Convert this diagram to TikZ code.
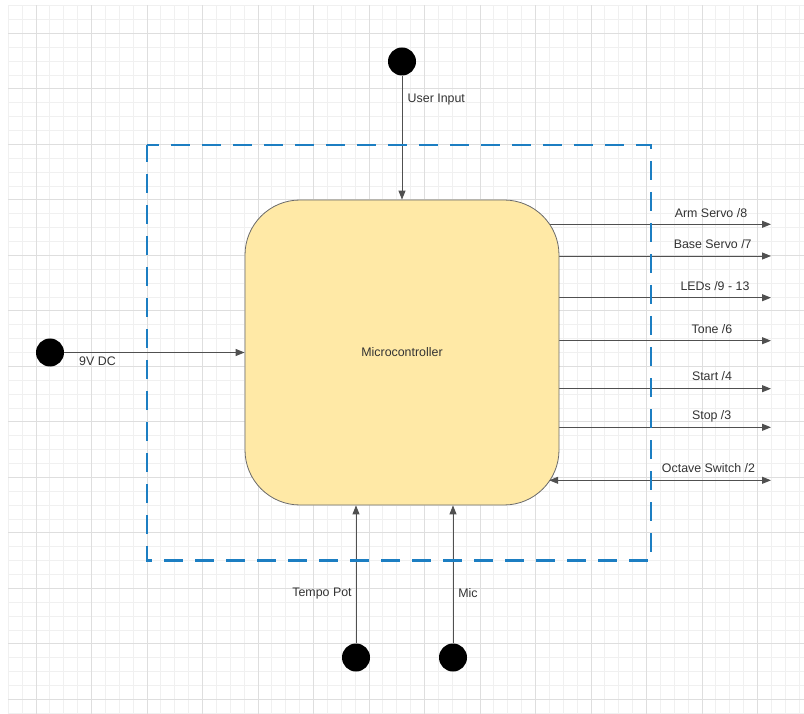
\documentclass[tikz,border=0pt]{standalone}
\usepackage{fontspec}
\setmainfont{Liberation Sans}
\usetikzlibrary{arrows.meta}
\definecolor{gridminor}{HTML}{F0F0F0}
\definecolor{gridmajor}{HTML}{DEDEDE}
\definecolor{boxfill}{HTML}{FFE9A6}
\definecolor{boxline}{HTML}{6A6A6A}
\definecolor{wire}{HTML}{505050}
\definecolor{labeltext}{HTML}{333333}
\definecolor{boundary}{HTML}{1C7EC2}
\pgfdeclarelayer{grid}
\pgfdeclarelayer{wires}
\pgfsetlayers{grid,wires,main}

\begin{document}
\begin{tikzpicture}[x=1pt,y=-1pt,
  lbl/.style={font=\fontsize{12.4}{14}\selectfont, text=labeltext, inner sep=0pt},
  terminal/.style={circle, fill=black, minimum size=28pt, inner sep=0pt},
  sig/.style={draw=wire, line width=0.9pt, -{Triangle[length=9pt,width=7pt]}},
  bisig/.style={draw=wire, line width=0.9pt, {Triangle[length=9pt,width=7pt]}-{Triangle[length=9pt,width=7pt]}},
  mcubox/.style={draw=boxline, fill=boxfill, line width=0.8pt, rounded corners=55pt,
    minimum width=314pt, minimum height=305pt},
  boundarybox/.style={draw=boundary, line width=2.3pt, dash pattern=on 19pt off 12pt, dash phase=7pt}
]
\useasboundingbox (0,0) rectangle (804,714);

% background grid
\begin{pgfonlayer}{grid}
  \fill[white] (0,0) rectangle (804,714);
  \foreach \i in {0,...,57} {
    \pgfmathsetmacro\gx{8.25+13.875*\i}
    \draw[gridminor, line width=0.8pt] (\gx,5.5) -- (\gx,714);
  }
  \foreach \i in {0,...,51} {
    \pgfmathsetmacro\gy{5.55+13.875*\i}
    \draw[gridminor, line width=0.8pt] (8.25,\gy) -- (804,\gy);
  }
  \foreach \i in {2,6,...,54} {
    \pgfmathsetmacro\gx{8.25+13.875*\i}
    \draw[gridmajor, line width=0.9pt] (\gx,5.5) -- (\gx,714);
  }
  \foreach \i in {2,6,...,50} {
    \pgfmathsetmacro\gy{5.55+13.875*\i}
    \draw[gridmajor, line width=0.9pt] (8.25,\gy) -- (804,\gy);
  }
\end{pgfonlayer}

% controller
\node[mcubox, lbl] (mcu) at (402,352.5) {Microcontroller};

% input terminals
\node[terminal] (user) at (402,61.5) {};
\node[terminal] (dc) at (50,352.5) {};
\node[terminal] (tempo) at (356,657.5) {};
\node[terminal] (mic) at (453,657.5) {};

\draw[sig] (user) -- (user |- mcu.north);
\draw[sig] (dc) -- (mcu.west);
\draw[sig] (tempo) -- (tempo |- mcu.south);
\draw[sig] (mic) -- (mic |- mcu.south);

\node[lbl, anchor=west] (userlbl) at (407.5,99.5) {User Input};
\node[lbl] (dclbl) at (97.5,361) {9V DC};
\node[lbl] (tempolbl) at (322,594) {Tempo Pot};
\node[lbl] (miclbl) at (468,593) {Mic};

% output ends
\coordinate (armOut) at (771,224.3);
\coordinate (baseOut) at (771,256);
\coordinate (ledOut) at (771,297.7);
\coordinate (toneOut) at (771,340.7);
\coordinate (startOut) at (771,388.7);
\coordinate (stopOut) at (771,427.3);
\coordinate (octOut) at (771,480.3);
\coordinate (octIn) at (549.2,480.3);

\begin{pgfonlayer}{wires}
  \draw[sig] (mcu.center |- armOut) -- (armOut);
  \draw[sig] (mcu.center |- baseOut) -- (baseOut);
  \draw[sig] (mcu.center |- ledOut) -- (ledOut);
  \draw[sig] (mcu.center |- toneOut) -- (toneOut);
  \draw[sig] (mcu.center |- startOut) -- (startOut);
  \draw[sig] (mcu.center |- stopOut) -- (stopOut);
\end{pgfonlayer}
\draw[bisig] (octIn) -- (octOut);

\node[lbl] (armlbl) at (711,212.7) {Arm Servo /8};
\node[lbl] (baselbl) at (712.7,244) {Base Servo /7};
\node[lbl] (ledlbl) at (715,285.7) {LEDs /9 - 13};
\node[lbl] (tonelbl) at (712,329) {Tone /6};
\node[lbl] (startlbl) at (712,376) {Start /4};
\node[lbl] (stoplbl) at (711.7,416) {Stop /3};
\node[lbl] (octlbl) at (708.5,468.3) {Octave Switch /2};

% enclosure boundary
\draw[boundarybox] (147,145) -- (651,145) -- (651,560.5) -- (147,560.5) -- cycle;

\end{tikzpicture}
\end{document}
